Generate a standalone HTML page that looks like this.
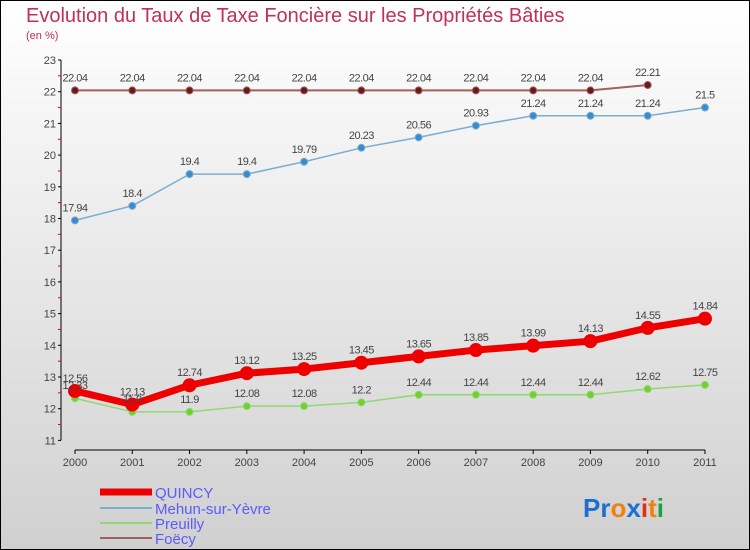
<!DOCTYPE html>
<html><head><meta charset="utf-8"><style>
html,body{margin:0;padding:0}
body{width:750px;height:550px;overflow:hidden;font-family:"Liberation Sans",sans-serif}
svg{display:block}
</style></head><body>
<svg id="chart" width="750" height="550">
<defs><linearGradient id="bg" x1="0" y1="0" x2="0" y2="1"><stop offset="0" stop-color="#ffffff"/><stop offset="1" stop-color="#d0d0d0"/></linearGradient></defs>
<rect x="0.5" y="0.5" width="749" height="549" fill="url(#bg)" stroke="#000"/>
<text x="26" y="22" font-size="20" fill="#c0305a">Evolution du Taux de Taxe Foncière sur les Propriétés Bâties</text>
<text x="26" y="39" font-size="11" fill="#c0305a">(en %)</text>
<g id="axes"></g><g id="series"></g><g id="labels"></g>
<g>
<line x1="100" y1="492" x2="152" y2="492" stroke="#e00" stroke-width="7"/>
<text x="155" y="498" font-size="15" fill="#5a5aff">QUINCY</text>
<line x1="100" y1="508" x2="152" y2="508" stroke="#7aaed0" stroke-width="2"/>
<text x="155" y="514" font-size="15" fill="#5a5aff">Mehun-sur-Yèvre</text>
<line x1="100" y1="523" x2="152" y2="523" stroke="#90d870" stroke-width="2"/>
<text x="155" y="529" font-size="15" fill="#5a5aff">Preuilly</text>
<line x1="100" y1="538" x2="152" y2="538" stroke="#a06060" stroke-width="2"/>
<text x="155" y="544" font-size="15" fill="#5a5aff">Foëcy</text>
</g>
<text x="583" y="517" font-size="26" font-weight="bold"><tspan fill="#1a6fd0">Pr</tspan><tspan fill="#f08010">o</tspan><tspan fill="#1a6fd0">x</tspan><tspan fill="#e03010">i</tspan><tspan fill="#f08010">t</tspan><tspan fill="#20a040">i</tspan></text>
</svg>
<script>
const years=[2000,2001,2002,2003,2004,2005,2006,2007,2008,2009,2010,2011];
const yTicks=[11,12,13,14,15,16,17,18,19,20,21,22,23];
const foecy=[22.04,22.04,22.04,22.04,22.04,22.04,22.04,22.04,22.04,22.04,22.21];
const mehun=[17.94,18.4,19.4,19.4,19.79,20.23,20.56,20.93,21.24,21.24,21.24,21.5];
const preuilly=[12.33,11.9,11.9,12.08,12.08,12.2,12.44,12.44,12.44,12.44,12.62,12.75];
const quincy=[12.56,12.13,12.74,13.12,13.25,13.45,13.65,13.85,13.99,14.13,14.55,14.84];
const NS='http://www.w3.org/2000/svg';
const x=i=>75+i*57.27;
const y=v=>60+(23-v)*31.7;
function mk(tag,attrs,parent){const e=document.createElementNS(NS,tag);for(const k in attrs)e.setAttribute(k,attrs[k]);document.getElementById(parent).appendChild(e);return e;}
let e;
e=mk('line',{x1:61,y1:y(23),x2:61,y2:y(11),stroke:'#000'},'axes');


e=mk('line',{x1:75,y1:450,x2:705,y2:450,stroke:'#000'},'axes');


yTicks.forEach((t,i)=>{
 e=mk('line',{x1:58,y1:y(t),x2:61,y2:y(t),stroke:'#000'},'axes');
 
 
 if(i<yTicks.length-1){e=mk('line',{x1:58,y1:y(t+0.5),x2:61,y2:y(t+0.5),stroke:'#e00'},'axes');
 
 }
 e=mk('text',{x:56,y:y(t)+4,'font-size':11,fill:'#444','text-anchor':'end'},'axes');
 e.textContent=t;
 
 
});
years.forEach((yr,i)=>{
 e=mk('line',{x1:x(i),y1:450,x2:x(i),y2:454,stroke:'#000'},'axes');
 
 
 e=mk('text',{x:x(i),y:466,'font-size':11,fill:'#444','text-anchor':'middle'},'axes');
 e.textContent=yr;
 
 
});
function series(vals,name,color,w,r,dot){
 e=mk('polyline',{points:vals.map((v,i)=>x(i)+','+y(v)).join(' '),fill:'none',stroke:color,'stroke-width':w,'stroke-linejoin':'round'},'series');
 
 
 vals.forEach((v,i)=>{
  e=mk('circle',{cx:x(i),cy:y(v),r:r,fill:dot,stroke:color,'stroke-width':1},'series');
  
  
  e=mk('text',{x:x(i),y:y(v)-9,'font-size':11,fill:'#444','text-anchor':'middle','letter-spacing':'-0.5'},'labels');
  e.textContent=v;
  
  
 });
}
series(foecy,'foecy','#a06060',2,3.5,'#6a1a1a');
series(mehun,'mehun','#7aaed0',1.5,3.5,'#3a8ad0');
series(preuilly,'preuilly','#90d870',1.5,3.5,'#70d030');
series(quincy,'quincy','#e00',7,6.5,'#e00');
</script>
</body></html>
